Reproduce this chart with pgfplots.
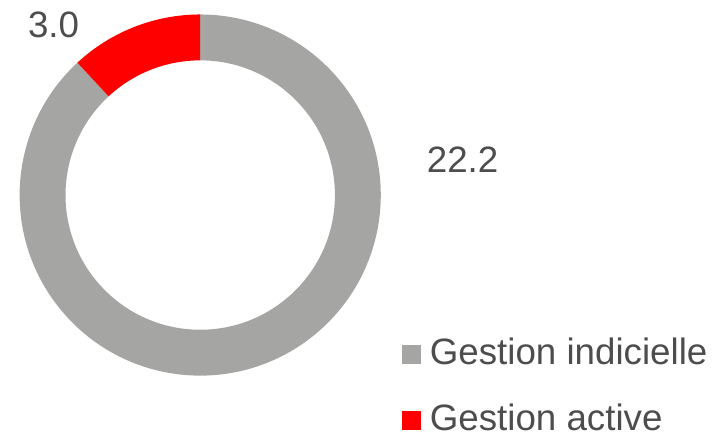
\documentclass[border=0pt]{standalone}
\usepackage{pgfplots}
\pgfplotsset{compat=1.18}
\usepackage{pgfplotstable}
\usepackage{fontspec}
\setmainfont{Liberation Sans}
\definecolor{ringgray}{HTML}{A5A6A4}
\definecolor{ringred}{HTML}{FF0000}
\definecolor{txt}{HTML}{4D4D4D}
\pgfplotstableread{
label value
indicielle 22.2
active 3.0
}\donutdata
\begin{document}
\begin{tikzpicture}
\pgfplotstablegetelem{0}{value}\of\donutdata \let\vA\pgfplotsretval
\pgfplotstablegetelem{1}{value}\of\donutdata \let\vB\pgfplotsretval
\pgfmathsetmacro{\total}{\vA+\vB}
\pgfmathsetmacro{\aB}{90+360*\vB/\total}
\begin{axis}[
  x=1bp, y=1bp,
  xmin=0, xmax=715, ymin=0, ymax=435,
  hide axis, clip=false,
  legend image code/.code={\fill[#1,draw=none] (0bp,-9.5bp) rectangle (19bp,9.5bp);},
  legend style={at={(axis cs:401,97)}, anchor=north west, draw=none, fill=none,
    font=\fontsize{36.8bp}{40bp}\selectfont, text=txt, inner sep=0pt,
    nodes={inner sep=0pt, text height=27bp, text depth=8bp},
    row sep=31bp, column sep=9bp},
  legend cell align=left,
]
\path (axis cs:0,0) rectangle (axis cs:715,435);
% gray segment
\fill[ringgray] (axis cs:199,239.5) ++(\aB:181bp) arc[start angle=\aB, end angle=450, radius=181bp]
  -- ++(90:-46bp) arc[start angle=450, end angle=\aB, radius=135bp] -- cycle;
% red segment
\fill[ringred] (axis cs:199,239.5) ++(90:181bp) arc[start angle=90, end angle=\aB, radius=181bp]
  -- ++(\aB:-46bp) arc[start angle=\aB, end angle=90, radius=135bp] -- cycle;
\addlegendimage{fill=ringgray, draw=none}
\addlegendentry{Gestion indicielle}
\addlegendimage{fill=ringred, draw=none}
\addlegendentry{Gestion active}
\node[anchor=base, text=txt, font=\fontsize{36.8bp}{40bp}\selectfont, inner sep=0pt] at (axis cs:52,397) {\pgfmathprintnumber[fixed,fixed zerofill,precision=1,assume math mode=true]{\vB}};
\node[anchor=base, text=txt, font=\fontsize{36.8bp}{40bp}\selectfont, inner sep=0pt] at (axis cs:462,262) {\pgfmathprintnumber[fixed,fixed zerofill,precision=1,assume math mode=true]{\vA}};
\end{axis}
\end{tikzpicture}
\end{document}
